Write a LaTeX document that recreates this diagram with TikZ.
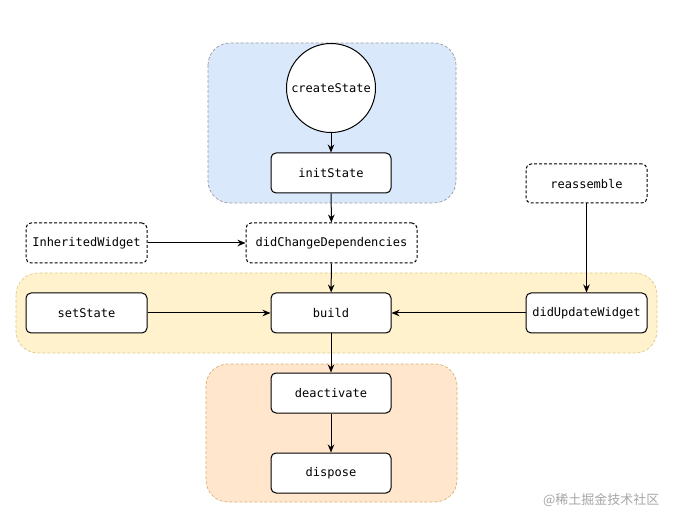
\documentclass[tikz,border=0pt]{standalone}
\usepackage{fontspec}
\setmonofont{DejaVu Sans Mono}
\newfontfamily\cjkfont{Noto Sans CJK SC}
\usetikzlibrary{arrows.meta,positioning}
\definecolor{bluefill}{HTML}{DAE8FC}
\definecolor{blueline}{HTML}{9A9A9A}
\definecolor{yelfill}{HTML}{FFF2CC}
\definecolor{yelline}{HTML}{E0C98A}
\definecolor{orfill}{HTML}{FFE6CC}
\definecolor{orline}{HTML}{D9B070}
\tikzset{
  px/.style={x=1pt,y=-1pt},
  region/.style={rounded corners=22pt, dashed, line width=0.7pt, dash pattern=on 3pt off 2pt},
  stepbox/.style={draw=black, fill=white, rounded corners=5pt, line width=1pt,
    minimum width=120pt, minimum height=40pt, inner sep=0pt, font=\ttfamily\fontsize{12}{14}\selectfont},
  dashbox/.style={stepbox, dashed, dash pattern=on 3pt off 2pt},
  arr/.style={-{Stealth[length=8pt,width=6.5pt]}, line width=1pt, black},
}
\begin{document}
\begin{tikzpicture}[px]
\useasboundingbox (0,0) rectangle (693,518);
% regions
\draw[region, fill=bluefill, draw=blueline] (208,43) rectangle (456,203);
\draw[region, fill=yelfill, draw=yelline] (16,273) rectangle (657,353);
\draw[region, fill=orfill, draw=orline] (206,364) rectangle (457,502);
% nodes
\node[circle, draw=black, fill=white, line width=1pt, minimum size=89pt, inner sep=0pt,
  font=\ttfamily\fontsize{12}{14}\selectfont] (create) at (331,88) {createState};
\node[stepbox] (init) at (331,173) {initState};
\node[dashbox, minimum width=121pt] (inh) at (86.5,243) {InheritedWidget};
\node[dashbox, minimum width=171pt] (dcd) at (331.5,243) {didChangeDependencies};
\node[dashbox, minimum width=121pt, minimum height=39pt] (re) at (586.5,183.5) {reassemble};
\node[stepbox, minimum width=121pt] (set) at (86.5,313) {setState};
\node[stepbox] (build) at (331,313) {build};
\node[stepbox, minimum width=121pt] (dup) at (586.5,313) {didUpdateWidget};
\node[stepbox] (deact) at (331,393) {deactivate};
\node[stepbox] (disp) at (331,473) {dispose};
\node[text=gray!70, font=\cjkfont\fontsize{13}{15}\selectfont, anchor=east] (wm) at (663,500) {@稀土掘金技术社区};
% connectors
\draw[arr] (create) -- (init);
\draw[arr] (init) -- (dcd);
\draw[arr] (inh) -- (dcd);
\draw[arr] (dcd) -- (build);
\draw[arr] (set) -- (build);
\draw[arr] (dup) -- (build);
\draw[arr] (re) -- (dup);
\draw[arr] (build) -- (deact);
\draw[arr] (deact) -- (disp);
\end{tikzpicture}
\end{document}
